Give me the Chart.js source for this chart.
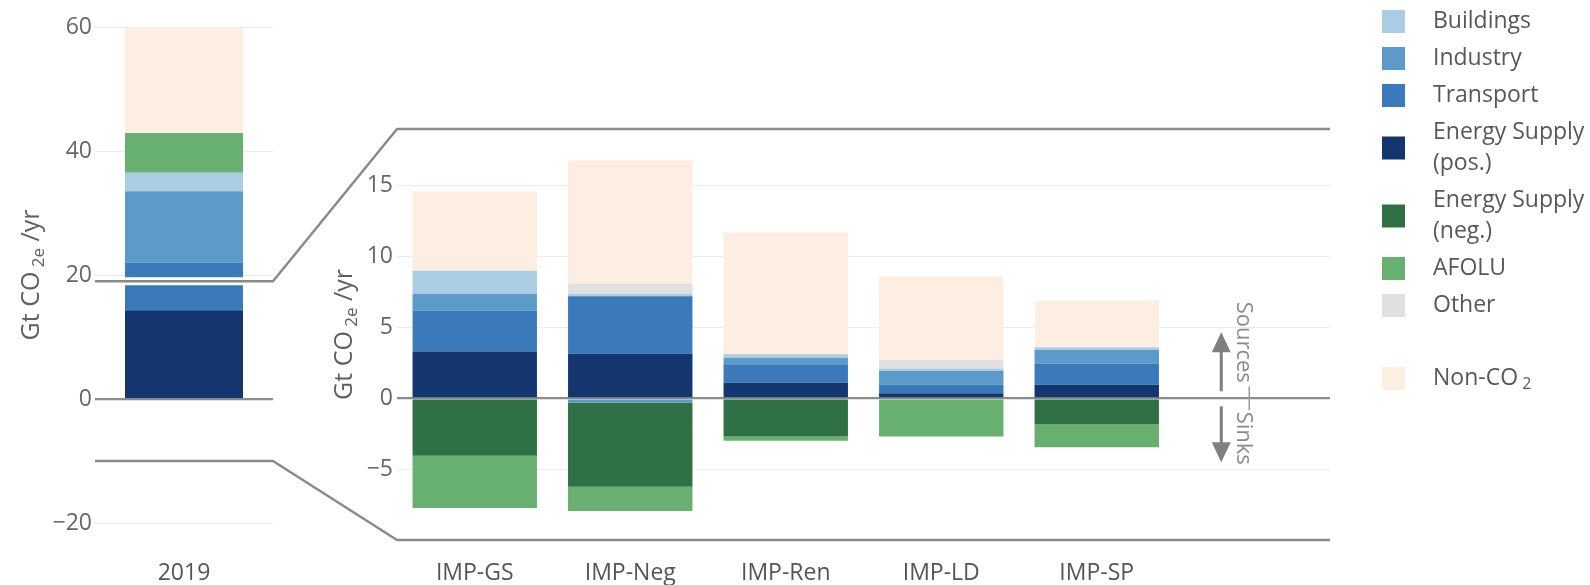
<!DOCTYPE html>
<html>
<head>
<meta charset="utf-8">
<script src="https://cdn.jsdelivr.net/npm/chart.js@4.4.1/dist/chart.umd.min.js"></script>
<style>
  html, body { margin: 0; padding: 0; background: #ffffff; }
  #wrap { position: relative; width: 1590px; height: 585px; overflow: hidden; }
  #wrap canvas { position: absolute; left: 0; top: 0; }
</style>
</head>
<body>
<div id="wrap">
  <canvas id="pathwayCanvas" width="1590" height="585"></canvas>
  <canvas id="historyCanvas" width="1590" height="585"></canvas>
</div>
<script>
// ---- data (Gt CO2-eq/yr) ----
const historyYear = ['2019'];
const pathways = ['IMP-GS', 'IMP-Neg', 'IMP-Ren', 'IMP-LD', 'IMP-SP'];

// sector values, ordered [2019, IMP-GS, IMP-Neg, IMP-Ren, IMP-LD, IMP-SP]
const energyPos = [14.3, 3.3, 3.15, 1.1, 0.35, 0.95];
const transport = [7.7, 2.9, 4.05, 1.3, 0.6, 1.5];
const industry  = [11.5, 1.15, -0.3, 0.45, 1.0, 0.95];
const energyNeg = [null, -4.05, -5.95, -2.7, null, -1.85];
const buildings = [3.0, 1.65, 0.15, 0.25, 0.15, 0.2];
const afolu     = [6.4, -3.7, -1.7, -0.3, -2.7, -1.6];
const other     = [null, null, 0.75, null, 0.6, null];
const nonCO2    = [17.0, 5.6, 8.7, 8.6, 5.9, 3.3];

const historyTicks = [-20, 0, 20, 40, 60];
const pathwayTicks = [-5, 0, 5, 10, 15];
const historyRange = [-20, 60];
const pathwayRange = [-10, 19];   // the slice of the 2019 axis that the right panel enlarges

// ---- styling ----
const FONT = "'Open Sans', 'Noto Sans', sans-serif";
const GRID = '#ececec';
const ZERO = '#8c8c8c';
const LINE = '#8a8a8a';

// stacking order (bottom to top for positives, top to bottom for negatives)
const series = [
  { key: 'energyPos', data: energyPos, color: '#14366f' },
  { key: 'transport', data: transport, color: '#3b7aba' },
  { key: 'industry',  data: industry,  color: '#5c9bc9' },
  { key: 'energyNeg', data: energyNeg, color: '#2f7044' },
  { key: 'buildings', data: buildings, color: '#abcde3' },
  { key: 'afolu',     data: afolu,     color: '#67b06f' },
  { key: 'other',     data: other,     color: '#e0e0e0' },
  { key: 'nonCO2',    data: nonCO2,    color: '#fcefe2' }
];
const colorOf = k => series.find(s => s.key === k).color;

// legend entries, top to bottom
const legendItems = [
  { key: 'buildings', lines: ['Buildings'] },
  { key: 'industry',  lines: ['Industry'] },
  { key: 'transport', lines: ['Transport'] },
  { key: 'energyPos', lines: ['Energy Supply', '(pos.)'] },
  { key: 'energyNeg', lines: ['Energy Supply', '(neg.)'] },
  { key: 'afolu',     lines: ['AFOLU'] },
  { key: 'other',     lines: ['Other'] },
  { key: 'nonCO2',    lines: [['Non-CO', ' 2']], gapBefore: 36 }
];

function makeDatasets(pick) {
  return series.map(s => ({
    label: s.key,
    data: pick(s.data),
    backgroundColor: s.color,
    borderWidth: 0
  }));
}

function fmtTick(v) {
  return v < 0 ? '\u2212' + Math.abs(v) : String(v);
}

// rotated axis title "Gt CO 2e /yr" with a subscript
function drawUnitTitle(ctx, cx, cy) {
  const parts = [
    { t: 'Gt CO', size: 25, dy: 0 },
    { t: ' 2e', size: 17, dy: 5 },
    { t: ' /yr', size: 25, dy: 0 }
  ];
  ctx.save();
  ctx.translate(cx, cy);
  ctx.rotate(-Math.PI / 2);
  ctx.fillStyle = '#5f5f5f';
  ctx.textBaseline = 'alphabetic';
  ctx.textAlign = 'left';
  let total = 0;
  parts.forEach(p => { ctx.font = p.size + 'px ' + FONT; p.w = ctx.measureText(p.t).width; total += p.w; });
  let x = -total / 2;
  parts.forEach(p => {
    ctx.font = p.size + 'px ' + FONT;
    ctx.fillText(p.t, x, 9 + p.dy);
    x += p.w;
  });
  ctx.restore();
}

function gridColor(c) { return c.tick && c.tick.value === 0 ? ZERO : GRID; }
function gridWidth(c) { return c.tick && c.tick.value === 0 ? 2.2 : 1; }

// ---- right panel: pathways in 2050 ----
const pathwayDecor = {
  id: 'pathwayDecor',
  afterDatasetsDraw(chart) {
    const ctx = chart.ctx;
    const xs = chart.scales.x, ys = chart.scales.y;
    const cx = xs.getPixelForValue(pathways.length);   // spare slot right of the bars
    const y0 = ys.getPixelForValue(0);
    const ax = cx - 31, tx = cx - 9;
    ctx.save();
    ctx.fillStyle = '#7f7f7f';
    ctx.strokeStyle = '#7f7f7f';
    ctx.lineWidth = 3;
    // up arrow (sources)
    ctx.beginPath(); ctx.moveTo(ax, y0 - 7); ctx.lineTo(ax, y0 - 48); ctx.stroke();
    ctx.beginPath(); ctx.moveTo(ax - 9.5, y0 - 46); ctx.lineTo(ax + 9.5, y0 - 46); ctx.lineTo(ax, y0 - 66); ctx.closePath(); ctx.fill();
    // down arrow (sinks)
    ctx.beginPath(); ctx.moveTo(ax, y0 + 8); ctx.lineTo(ax, y0 + 46); ctx.stroke();
    ctx.beginPath(); ctx.moveTo(ax - 9.5, y0 + 44); ctx.lineTo(ax + 9.5, y0 + 44); ctx.lineTo(ax, y0 + 64); ctx.closePath(); ctx.fill();
    // small divider between the two words
    ctx.lineWidth = 1.5;
    ctx.strokeStyle = '#9a9a9a';
    ctx.beginPath(); ctx.moveTo(tx + 6, y0 - 12); ctx.lineTo(tx + 6, y0 + 12); ctx.stroke();
    // words, reading downwards
    ctx.fillStyle = '#8a8a8a';
    ctx.font = '22px ' + FONT;
    ctx.textAlign = 'center';
    ctx.textBaseline = 'middle';
    [['Sources', y0 - 56], ['Sinks', y0 + 40]].forEach(([t, y]) => {
      ctx.save();
      ctx.translate(tx, y);
      ctx.rotate(Math.PI / 2);
      ctx.fillText(t, 0, 0);
      ctx.restore();
    });
    ctx.restore();
  },
  afterDraw(chart) {
    const ctx = chart.ctx;
    const a = chart.chartArea;
    drawUnitTitle(ctx, a.left - 54, (a.top + a.bottom) / 2);

    // legend
    const sx = 1382, sw = 23, txl = 1433;
    const rowStep = 37, lineStep = 31;
    let y = 21.5;
    ctx.save();
    ctx.textBaseline = 'middle';
    ctx.textAlign = 'left';
    legendItems.forEach(item => {
      if (item.gapBefore) y += item.gapBefore;
      const n = item.lines.length;
      const mid = y + (n - 1) * lineStep / 2;
      ctx.fillStyle = colorOf(item.key);
      ctx.fillRect(sx, mid - sw / 2, sw, sw);
      ctx.fillStyle = '#585858';
      item.lines.forEach((ln, i) => {
        const ly = y + i * lineStep;
        if (Array.isArray(ln)) {
          ctx.font = '23px ' + FONT;
          ctx.fillText(ln[0], txl, ly);
          const w = ctx.measureText(ln[0]).width;
          ctx.font = '16px ' + FONT;
          ctx.fillText(ln[1], txl + w, ly + 6);
        } else {
          ctx.font = '23px ' + FONT;
          ctx.fillText(ln, txl, ly);
        }
      });
      y += (n - 1) * lineStep + rowStep;
    });
    ctx.restore();
  }
};

const pathwayChart = new Chart(document.getElementById('pathwayCanvas'), {
  type: 'bar',
  data: {
    labels: pathways.concat(['']),
    datasets: makeDatasets(d => d.slice(1))
  },
  options: {
    responsive: false,
    animation: false,
    devicePixelRatio: 1,
    layout: { padding: { left: 0, top: 129, right: 260, bottom: 0 } },
    datasets: { bar: { barPercentage: 0.8, categoryPercentage: 1 } },
    plugins: { legend: { display: false }, tooltip: { enabled: false } },
    scales: {
      x: {
        stacked: true,
        grid: { display: false, drawTicks: false },
        border: { display: false },
        ticks: { color: '#555555', font: { family: FONT, size: 23 }, padding: 20, maxRotation: 0, autoSkip: false },
        afterFit(s) { s.height = 45; s.paddingLeft = 0; s.paddingRight = 0; }
      },
      y: {
        stacked: true,
        min: pathwayRange[0],
        max: pathwayRange[1],
        border: { display: false },
        grid: { drawTicks: false, color: gridColor, lineWidth: gridWidth },
        ticks: { color: '#666666', font: { family: FONT, size: 23 }, padding: 4, callback: fmtTick },
        afterBuildTicks(s) { s.ticks = pathwayTicks.map(v => ({ value: v })); },
        afterFit(s) { s.width = 397; s.paddingTop = 0; s.paddingBottom = 0; }
      }
    }
  },
  plugins: [pathwayDecor]
});

// ---- left panel: 2019 ----
const historyDecor = {
  id: 'historyDecor',
  afterDatasetsDraw(chart) {
    const ctx = chart.ctx;
    const a = chart.chartArea;
    const b = pathwayChart.chartArea;
    const ys = chart.scales.y;
    const yHi = ys.getPixelForValue(pathwayRange[1]);
    const yLo = ys.getPixelForValue(pathwayRange[0]);
    ctx.save();
    // white gap where the enlarged range begins
    ctx.strokeStyle = '#ffffff';
    ctx.lineWidth = 8;
    ctx.beginPath(); ctx.moveTo(a.left, yHi); ctx.lineTo(a.right, yHi); ctx.stroke();
    // connector outlines to the enlarged panel
    ctx.strokeStyle = LINE;
    ctx.lineWidth = 2.5;
    ctx.lineJoin = 'round';
    [[yHi, b.top], [yLo, b.bottom]].forEach(([y1, y2]) => {
      ctx.beginPath();
      ctx.moveTo(a.left, y1);
      ctx.lineTo(a.right, y1);
      ctx.lineTo(b.left, y2);
      ctx.lineTo(b.right, y2);
      ctx.stroke();
    });
    ctx.restore();
  },
  afterDraw(chart) {
    const a = chart.chartArea;
    drawUnitTitle(chart.ctx, a.left - 65, (a.top + a.bottom) / 2);
  }
};

const historyChart = new Chart(document.getElementById('historyCanvas'), {
  type: 'bar',
  data: {
    labels: historyYear,
    datasets: makeDatasets(d => d.slice(0, 1))
  },
  options: {
    responsive: false,
    animation: false,
    devicePixelRatio: 1,
    layout: { padding: { left: 0, top: 27, right: 1317, bottom: 0 } },
    datasets: { bar: { barPercentage: 0.663, categoryPercentage: 1 } },
    plugins: { legend: { display: false }, tooltip: { enabled: false } },
    scales: {
      x: {
        stacked: true,
        grid: { display: false, drawTicks: false },
        border: { display: false },
        ticks: { color: '#555555', font: { family: FONT, size: 23 }, padding: 37, maxRotation: 0, autoSkip: false },
        afterFit(s) { s.height = 62; s.paddingLeft = 0; s.paddingRight = 0; }
      },
      y: {
        stacked: true,
        min: historyRange[0],
        max: historyRange[1],
        border: { display: false },
        grid: { drawTicks: false, color: gridColor, lineWidth: gridWidth },
        ticks: { color: '#666666', font: { family: FONT, size: 23 }, padding: 3, callback: fmtTick },
        afterBuildTicks(s) { s.ticks = historyTicks.map(v => ({ value: v })); },
        afterFit(s) { s.width = 95; s.paddingTop = 0; s.paddingBottom = 0; }
      }
    }
  },
  plugins: [historyDecor]
});
</script>
</body>
</html>
